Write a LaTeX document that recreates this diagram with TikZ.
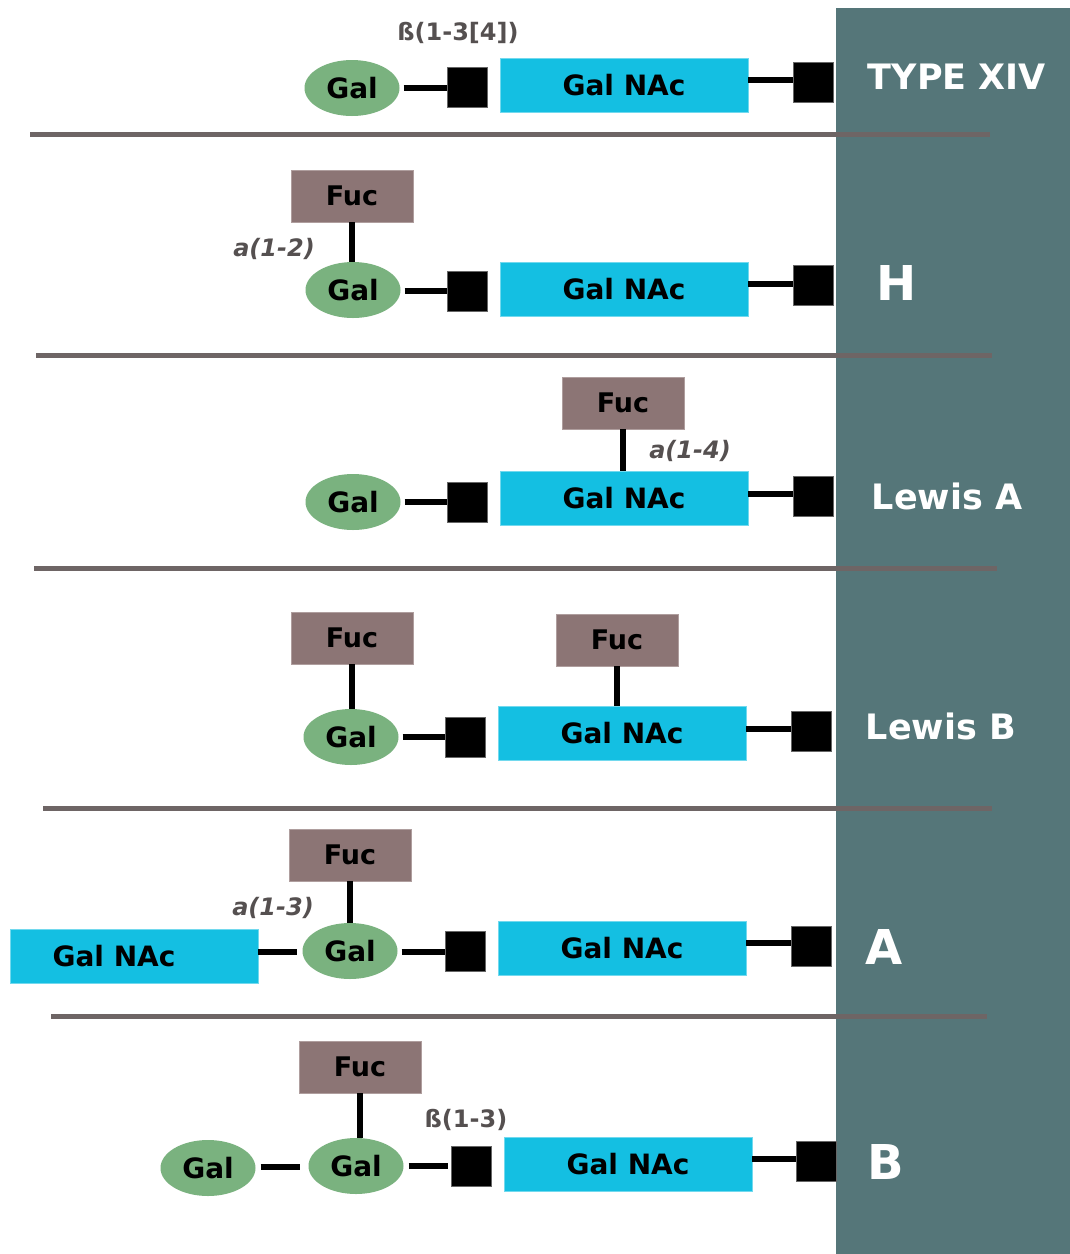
\documentclass[tikz,border=0pt]{standalone}
\usepackage{fontspec}
\setmainfont{DejaVu Sans}
\usetikzlibrary{shapes.geometric}
\definecolor{band}{HTML}{557679}
\definecolor{galgreen}{HTML}{7AB27F}
\definecolor{naccyan}{HTML}{14BFE2}
\definecolor{fucbrown}{HTML}{8C7575}
\definecolor{sepcol}{HTML}{6E6565}
\definecolor{lblgrey}{HTML}{555050}
\begin{document}
\begin{tikzpicture}[x=1pt,y=-1pt,
  sugarfont/.style={font=\bfseries\fontsize{28}{28}\selectfont},
  galnode/.style={ellipse, fill=galgreen, minimum width=95pt, minimum height=56pt, inner sep=0pt, sugarfont},
  nacnode/.style={rectangle, fill=naccyan, draw=naccyan!60!white, line width=0.8pt, minimum width=248pt, minimum height=54pt, inner sep=0pt, sugarfont},
  fucnode/.style={rectangle, fill=fucbrown, draw=fucbrown!70!white, line width=0.8pt, minimum width=122pt, minimum height=52pt, inner sep=0pt, font=\bfseries\fontsize{27}{27}\selectfont},
  blk/.style={rectangle, fill=black, draw=black!60, line width=0.8pt, minimum width=40pt, minimum height=40pt, inner sep=0pt},
  bond/.style={line width=6pt, black},
  sep/.style={line width=5pt, sepcol},
  linkage/.style={text=lblgrey, font=\bfseries\fontsize{24}{24}\selectfont, inner sep=0pt},
  linkit/.style={text=lblgrey, font=\bfseries\itshape\fontsize{24}{24}\selectfont, inner sep=0pt},
  typebig/.style={text=white, font=\bfseries\fontsize{48}{48}\selectfont, inner sep=0pt},
  typemid/.style={text=white, font=\bfseries\fontsize{35}{35}\selectfont, inner sep=0pt}
]
\useasboundingbox (0,0) rectangle (1070,1254);
\fill[white] (0,0) rectangle (1070,1254);
\fill[band] (836,8) rectangle (1070,1254);

% separators
\draw[sep] (30,134) -- (990,134);
\draw[sep] (36,355) -- (992,355);
\draw[sep] (34,568) -- (997,568);
\draw[sep] (43,808) -- (992,808);
\draw[sep] (51,1016) -- (987,1016);

% ---- Row 1: TYPE XIV
\node[galnode] (g1) at (352,88) {Gal};
\node[blk] (s1) at (467,87) {};
\node[nacnode] (n1) at (624,85) {Gal NAc};
\node[blk] (t1) at (813,82) {};
\node[linkage] (l1) at (458,33) {ß(1-3[4])};
\node[typemid] (ty1) at (957,77) {TYPE XIV};
\draw[bond, shorten <=4pt] (g1.east |- 0,88) -- (s1.west |- 0,88);
\draw[bond] (n1.east |- 0,80) -- (t1.west |- 0,80);

% ---- Row 2: H
\node[fucnode] (f2) at (352,196) {Fuc};
\node[galnode] (g2) at (353,290) {Gal};
\node[blk] (s2) at (467,291) {};
\node[nacnode] (n2) at (624,289) {Gal NAc};
\node[blk] (t2) at (813,285) {};
\node[linkit] (l2) at (274,249) {a(1-2)};
\node[typebig] (ty2) at (897,283) {H};
\draw[bond] (f2.south) -- (f2.south |- g2.north);
\draw[bond, shorten <=4pt] (g2.east |- 0,291) -- (s2.west |- 0,291);
\draw[bond] (n2.east |- 0,284) -- (t2.west |- 0,284);

% ---- Row 3: Lewis A
\node[fucnode] (f3) at (623,403) {Fuc};
\node[galnode] (g3) at (353,502) {Gal};
\node[blk] (s3) at (467,502) {};
\node[nacnode] (n3) at (624,498) {Gal NAc};
\node[blk] (t3) at (813,496) {};
\node[linkit] (l3) at (690,451) {a(1-4)};
\node[typemid] (ty3) at (947,496) {Lewis A};
\draw[bond] (f3.south) -- (f3.south |- n3.north);
\draw[bond, shorten <=4pt] (g3.east |- 0,502) -- (s3.west |- 0,502);
\draw[bond] (n3.east |- 0,494) -- (t3.west |- 0,494);

% ---- Row 4: Lewis B
\node[fucnode] (f4a) at (352,638) {Fuc};
\node[galnode] (g4) at (351,737) {Gal};
\node[blk] (s4) at (465,737) {};
\node[fucnode] (f4b) at (617,640) {Fuc};
\node[nacnode] (n4) at (622,733) {Gal NAc};
\node[blk] (t4) at (811,731) {};
\node[typemid] (ty4) at (941,726) {Lewis B};
\draw[bond] (f4a.south) -- (f4a.south |- g4.north);
\draw[bond] (f4b.south) -- (f4b.south |- n4.north);
\draw[bond, shorten <=4pt] (g4.east |- 0,737) -- (s4.west |- 0,737);
\draw[bond] (n4.east |- 0,729) -- (t4.west |- 0,729);

% ---- Row 5: A
\node[fucnode] (f5) at (350,855) {Fuc};
\node[nacnode] (m5) at (134,956) {\hspace*{-40pt}Gal NAc};
\node[galnode] (g5) at (350,951) {Gal};
\node[blk] (s5) at (465,951) {};
\node[nacnode] (n5) at (622,948) {Gal NAc};
\node[blk] (t5) at (811,946) {};
\node[linkit] (l5) at (273,908) {a(1-3)};
\node[typebig] (ty5) at (884,947) {A};
\draw[bond] (f5.south) -- (f5.south |- g5.north);
\draw[bond, shorten >=5pt] (m5.east |- 0,952) -- (g5.west |- 0,952);
\draw[bond, shorten <=4pt] (g5.east |- 0,952) -- (s5.west |- 0,952);
\draw[bond] (n5.east |- 0,943) -- (t5.west |- 0,943);

% ---- Row 6: B
\node[fucnode] (f6) at (360,1067) {Fuc};
\node[galnode] (g6a) at (208,1168) {Gal};
\node[galnode] (g6b) at (356,1166) {Gal};
\node[blk] (s6) at (471,1166) {};
\node[nacnode] (n6) at (628,1164) {Gal NAc};
\node[blk] (t6) at (816,1161) {};
\node[linkage] (l6) at (466,1120) {ß(1-3)};
\node[typebig] (ty6) at (886,1162) {B};
\draw[bond] (f6.south) -- (f6.south |- g6b.north);
\draw[bond, shorten <=5pt, shorten >=8pt] (g6a.east |- 0,1167) -- (g6b.west |- 0,1167);
\draw[bond, shorten <=5pt, shorten >=3pt] (g6b.east |- 0,1166) -- (s6.west |- 0,1166);
\draw[bond] (n6.east |- 0,1159) -- (t6.west |- 0,1159);
\end{tikzpicture}
\end{document}
